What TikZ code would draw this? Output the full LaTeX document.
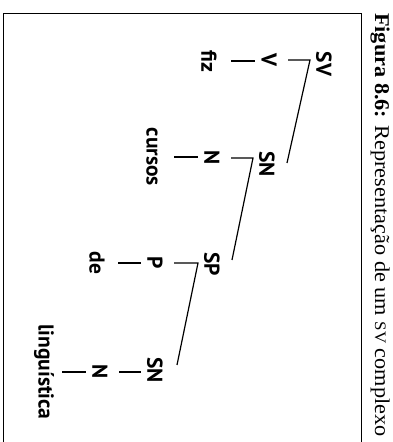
\documentclass[tikz,border=0pt]{standalone}
\usepackage{fontspec}
\setmainfont{Liberation Serif}
\newfontfamily\treefont{PT Sans}
\usetikzlibrary{calc}
\begin{document}
\begin{tikzpicture}[x=1pt,y=1pt,
  lab/.style={font=\treefont\bfseries\fontsize{21.5}{21.5}\selectfont, rotate=-90, inner sep=0pt},
  br/.style={line width=1.2pt},
  frame/.style={line width=1pt}]
\useasboundingbox (0,0) rectangle (392,442);
\draw[frame] (3,0) -- (3,428) -- (361,428) -- (361,0);
\node[rotate=-90, anchor=west, font=\fontsize{21}{21}\selectfont, inner sep=0pt] (cap) at (380,429)
  {\scalebox{1.06}[1]{\textbf{Figura 8.6:} Representação de um {\fontsize{16}{16}\selectfont SV} complexo}};
% tree labels
\node[lab] (SV) at (324,378) {SV};
\node[lab] (V) at (269,382) {V};
\node[lab] (fiz) at (209,381) {fiz};
\node[lab] (SNa) at (267,278) {SN};
\node[lab] (Na) at (212,284) {N};
\node[lab] (cursos) at (152,285) {cursos};
\node[lab] (SP) at (212,178) {SP};
\node[lab] (P) at (155,179) {P};
\node[lab] (de) at (97,179) {de};
\node[lab] (SNb) at (155,72) {SN};
\node[lab] (Nb) at (100,70) {N};
\node[lab] (ling) at (44,70) {linguística};
% corner points
\coordinate (kSV) at ([xshift=-14pt]SV.center);
\coordinate (kV) at ([xshift=-14pt]V.center);
\coordinate (kSNa) at ([xshift=-14pt]SNa.center);
\coordinate (kNa) at ([xshift=-14pt]Na.center);
\coordinate (kSP) at ([xshift=-14pt]SP.center);
\coordinate (kP) at ([xshift=-14pt]P.center);
\coordinate (kSNb) at ([xshift=-14pt]SNb.center);
\coordinate (kNb) at ([xshift=-14pt]Nb.center);
% branches
\draw[br] ([xshift=19pt]V.center) -- (kSV |- V.center) -- ([shift={(20pt,1pt)}]SNa.center);
\draw[br] ([xshift=22pt]fiz.center) -- (kV |- fiz.center);
\draw[br] ([xshift=19pt]Na.center) -- (kSNa |- Na.center) -- ([shift={(20pt,4pt)}]SP.center);
\draw[br] ([xshift=22pt]cursos.center) -- (kNa |- cursos.center);
\draw[br] ([xshift=19pt]P.center) -- (kSP |- P.center) -- ([shift={(22pt,5pt)}]SNb.center);
\draw[br] ([xshift=21pt]de.center) -- (kP |- de.center);
\draw[br] ([xshift=19pt]Nb.center) -- (kSNb |- Nb.center);
\draw[br] ([xshift=18pt]ling.center) -- (kNb |- ling.center);
\end{tikzpicture}
\end{document}
